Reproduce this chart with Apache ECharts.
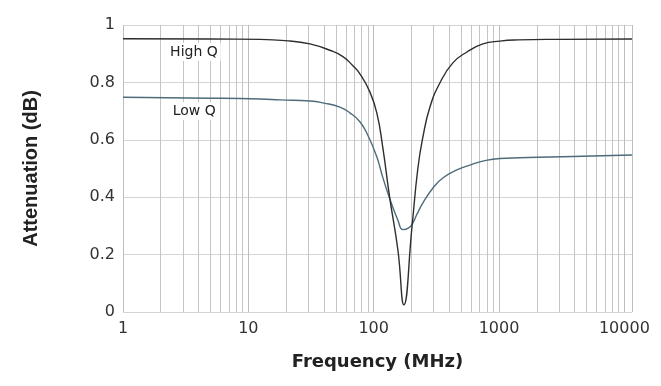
<!DOCTYPE html>
<html><head><meta charset="utf-8">
<script src="https://cdn.jsdelivr.net/npm/echarts@6/dist/echarts.min.js"></script>
<style>html,body{margin:0;padding:0;background:#fff}#c{width:661px;height:386px}</style>
</head><body><div id="c"></div>
<script>
const highQFreq = [1, 5, 12.4, 21.5, 31, 44.7, 56.8, 68.2, 77.6, 93.2, 106, 118, 134, 156, 174, 202, 225, 247, 281, 337, 428, 554, 743, 1015, 1413, 3000, 11500];
const highQVal  = [0.952, 0.951, 0.950, 0.944, 0.934, 0.912, 0.890, 0.858, 0.830, 0.767, 0.693, 0.575, 0.400, 0.216, 0.025, 0.296, 0.500, 0.610, 0.714, 0.798, 0.868, 0.906, 0.934, 0.944, 0.948, 0.950, 0.951];
const lowQFreq = [1, 5, 12.4, 17.9, 31, 40, 53.8, 64.6, 77.6, 90, 106, 118, 135, 156, 171, 190, 205, 221, 247, 297, 356, 461, 585, 703, 1015, 3228, 11500];
const lowQVal  = [0.748, 0.745, 0.742, 0.739, 0.735, 0.728, 0.714, 0.694, 0.663, 0.615, 0.540, 0.470, 0.392, 0.320, 0.287, 0.293, 0.310, 0.340, 0.380, 0.432, 0.467, 0.495, 0.512, 0.523, 0.535, 0.541, 0.547];
const minorGridFreqs = [2,3,4,5,6,7,8,9,20,30,40,50,60,70,80,90,200,300,400,500,600,700,800,900,2000,3000,4000,5000,6000,7000,8000,9000];
const xTickLabels = ['1', '10', '100', '1000', '10000'];
const seriesNames = ['High Q', 'Low Q'];
const labelPos = [[3.68, 0.906], [3.7, 0.700]];

const chart = echarts.init(document.getElementById('c'));
const wide = 'DejaVu Sans, Verdana, sans-serif';
const narrow = 'Liberation Sans, Arial, Helvetica, sans-serif';
chart.setOption({
  animation: false,
  backgroundColor: '#fff',
  grid: { left: 123, right: 29, top: 25, bottom: 74 },
  xAxis: {
    type: 'log', logBase: 10, min: 1, max: 11500,
    name: 'Frequency (MHz)', nameLocation: 'middle', nameGap: 41,
    nameTextStyle: { fontFamily: wide, fontSize: 18, fontWeight: 'bold', color: '#222' },
    axisLine: { show: false }, axisTick: { show: false },
    axisLabel: { fontFamily: wide, fontSize: 16, color: '#333', margin: 9, showMaxLabel: false,
      formatter: v => { const i = Math.round(Math.log10(v)); return Math.abs(Math.log10(v) - i) < 1e-6 ? xTickLabels[i] : ''; } },
    splitLine: { show: true, lineStyle: { color: '#bdbdbd', width: 1 } },
    minorSplitLine: { show: false }
  },
  yAxis: {
    type: 'value', min: 0, max: 1, interval: 0.2,
    name: 'Attenuation (dB)', nameLocation: 'middle', nameGap: 82, nameRotate: 90,
    nameTextStyle: { fontFamily: narrow, fontSize: 20, fontWeight: 'bold', color: '#222' },
    axisLine: { show: false }, axisTick: { show: false },
    axisLabel: { fontFamily: wide, fontSize: 16, color: '#333', margin: 8,
      formatter: v => String(+v.toFixed(1)) },
    splitLine: { show: true, lineStyle: { color: '#d4d4d4', width: 1 } }
  },
  series: [
    {
      name: seriesNames[0], type: 'line', showSymbol: false, smooth: 0.5,
      data: highQFreq.map((f, i) => [f, highQVal[i]]),
      lineStyle: { color: '#2e2e2e', width: 1.4 }, z: 5,
      markLine: {
        silent: true, symbol: 'none', label: { show: false },
        lineStyle: { color: '#c4c4c4', width: 1, type: 'solid' },
        data: minorGridFreqs.map(f => ({ xAxis: f })), z: 1
      },
      markPoint: {
        symbolSize: 0, silent: true,
        data: [{ coord: labelPos[0] }],
        label: { show: true, formatter: seriesNames[0], fontFamily: wide, fontSize: 14, color: '#222',
          backgroundColor: '#fff', padding: [2, 3] }
      }
    },
    {
      name: seriesNames[1], type: 'line', showSymbol: false, smooth: 0.5,
      data: lowQFreq.map((f, i) => [f, lowQVal[i]]),
      lineStyle: { color: '#4d6b7a', width: 1.4 }, z: 4,
      markPoint: {
        symbolSize: 0, silent: true,
        data: [{ coord: labelPos[1] }],
        label: { show: true, formatter: seriesNames[1], fontFamily: wide, fontSize: 14, color: '#222',
          backgroundColor: '#fff', padding: [2, 3] }
      }
    }
  ]
});
</script></body></html>
